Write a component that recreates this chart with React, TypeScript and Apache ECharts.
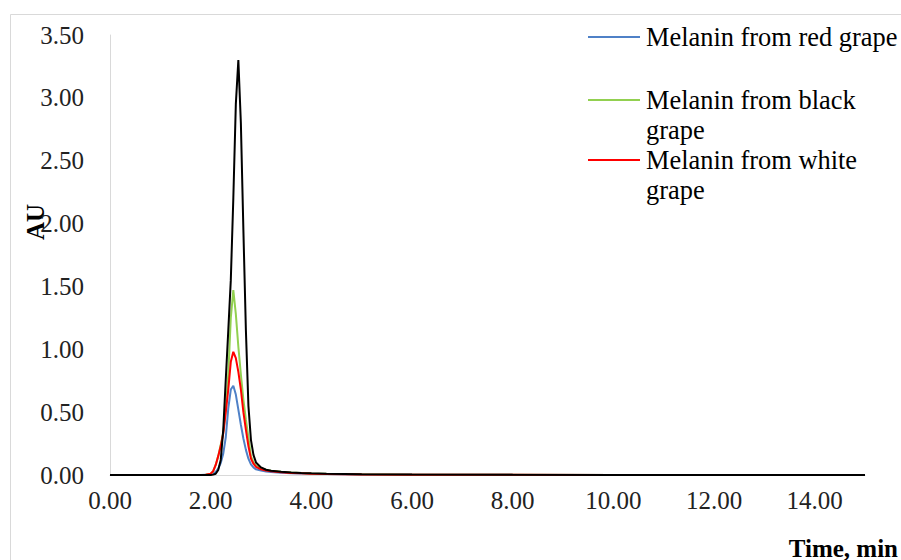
import React, { useEffect, useRef } from "react";
import * as echarts from "echarts";

const times = [0, 1.8, 1.9, 2.0, 2.05, 2.1, 2.15, 2.2, 2.25, 2.3, 2.35, 2.4, 2.45, 2.5, 2.55, 2.6, 2.65, 2.7, 2.75, 2.8, 2.85, 2.9, 3.0, 3.1, 3.2, 3.4, 3.6, 3.8, 4.0, 4.3, 5.0, 6.0, 8.0, 10.0, 12.0, 15.0];

const redGrape = [0, 0, 0.001, 0.003, 0.01, 0.025, 0.05, 0.095, 0.17, 0.3, 0.53, 0.68, 0.71, 0.64, 0.52, 0.4, 0.29, 0.2, 0.13, 0.085, 0.06, 0.045, 0.035, 0.028, 0.024, 0.018, 0.014, 0.011, 0.009, 0.007, 0.004, 0.002, 0.001, 0, 0, 0];
const blackGrape = [0, 0, 0.002, 0.01, 0.03, 0.08, 0.15, 0.24, 0.34, 0.52, 0.8, 1.25, 1.47, 1.28, 1.02, 0.8, 0.6, 0.44, 0.3, 0.15, 0.1, 0.075, 0.055, 0.042, 0.034, 0.025, 0.019, 0.015, 0.012, 0.009, 0.005, 0.002, 0.001, 0, 0, 0];
const whiteGrape = [0, 0, 0.002, 0.01, 0.03, 0.08, 0.15, 0.23, 0.33, 0.5, 0.68, 0.9, 0.98, 0.93, 0.82, 0.68, 0.5, 0.36, 0.23, 0.13, 0.09, 0.065, 0.045, 0.035, 0.029, 0.021, 0.016, 0.013, 0.01, 0.008, 0.004, 0.002, 0.001, 0, 0, 0];
const standard = [0, 0, 0, 0, 0.003, 0.01, 0.04, 0.12, 0.36, 0.76, 1.15, 1.55, 2.2, 2.95, 3.3, 2.8, 1.95, 1.15, 0.55, 0.28, 0.16, 0.1, 0.06, 0.042, 0.034, 0.025, 0.02, 0.016, 0.013, 0.01, 0.006, 0.003, 0.001, 0, 0, 0];

const seriesNames = ["Melanin from red grape", "Melanin from black grape", "Melanin from white grape", "Standard"];
const seriesColors = ["#4F81C7", "#92D050", "#FF0000", "#000000"];
const seriesValues = [redGrape, blackGrape, whiteGrape, standard];
const legendLines = [["Melanin from red grape"], ["Melanin from black", "grape"], ["Melanin from white", "grape"]];

const FONT = "Liberation Serif";

export default function App() {
  const ref = useRef<HTMLDivElement>(null);
  useEffect(() => {
    if (!ref.current) return;
    const chart = echarts.init(ref.current, null, { renderer: "svg" });
    const legendY = [37, 100, 160];
    const legendGraphics: any[] = [];
    legendLines.forEach((lines, i) => {
      legendGraphics.push({
        type: "line",
        shape: { x1: 588, y1: legendY[i], x2: 640, y2: legendY[i] },
        style: { stroke: seriesColors[i], lineWidth: 2 },
        silent: true,
      });
      lines.forEach((line, k) => {
        legendGraphics.push({
          type: "text",
          x: 646,
          y: legendY[i] + k * 30,
          style: {
            text: line,
            fontFamily: FONT,
            fontSize: 26.4,
            fill: "#000",
            align: "left",
            verticalAlign: "middle",
          },
        });
      });
    });
    chart.setOption({
      animation: false,
      backgroundColor: "#fff",
      grid: { left: 110, right: 36, top: 35, bottom: 85, containLabel: false },
      xAxis: {
        type: "value",
        min: 0,
        max: 15,
        interval: 2,
        axisLine: { show: true, lineStyle: { color: "#d9d9d9", width: 1 } },
        axisTick: { show: false },
        splitLine: { show: false },
        axisLabel: {
          formatter: (v: number) => v.toFixed(2),
          fontFamily: FONT,
          fontSize: 25,
          color: "#222",
          margin: 13,
          showMaxLabel: false,
        },
      },
      yAxis: {
        type: "value",
        min: 0,
        max: 3.5,
        interval: 0.5,
        axisLine: { show: true, lineStyle: { color: "#d9d9d9", width: 1 } },
        axisTick: { show: false },
        splitLine: { show: false },
        axisLabel: {
          formatter: (v: number) => v.toFixed(2),
          fontFamily: FONT,
          fontSize: 25,
          color: "#222",
          margin: 26,
        },
      },
      graphic: [
        {
          type: "rect",
          shape: { x: 10.5, y: 14.5, width: 900, height: 560 },
          style: { fill: "none", stroke: "#d9d9d9", lineWidth: 1 },
          silent: true,
          z: -1,
        },
        {
          type: "text",
          x: 35,
          y: 222,
          rotation: Math.PI / 2,
          style: {
            text: "AU",
            fontFamily: FONT,
            fontWeight: "bold",
            fontSize: 25,
            fill: "#000",
            align: "center",
            verticalAlign: "middle",
          },
        },
        {
          type: "text",
          x: 898,
          y: 548,
          style: {
            text: "Time, min",
            fontFamily: FONT,
            fontWeight: "bold",
            fontSize: 25,
            fill: "#000",
            align: "right",
            verticalAlign: "middle",
          },
        },
        ...legendGraphics,
      ],
      series: seriesValues.map((vals, i) => ({
        name: seriesNames[i],
        type: "line",
        data: times.map((t, j) => [t, vals[j]]),
        symbol: "none",
        lineStyle: { color: seriesColors[i], width: 2 },
        itemStyle: { color: seriesColors[i] },
        z: 2 + i,
      })),
    });
    return () => chart.dispose();
  }, []);
  return (
    <div
      ref={ref}
      style={{ position: "fixed", left: 0, top: 0, width: 901, height: 560 }}
    />
  );
}
